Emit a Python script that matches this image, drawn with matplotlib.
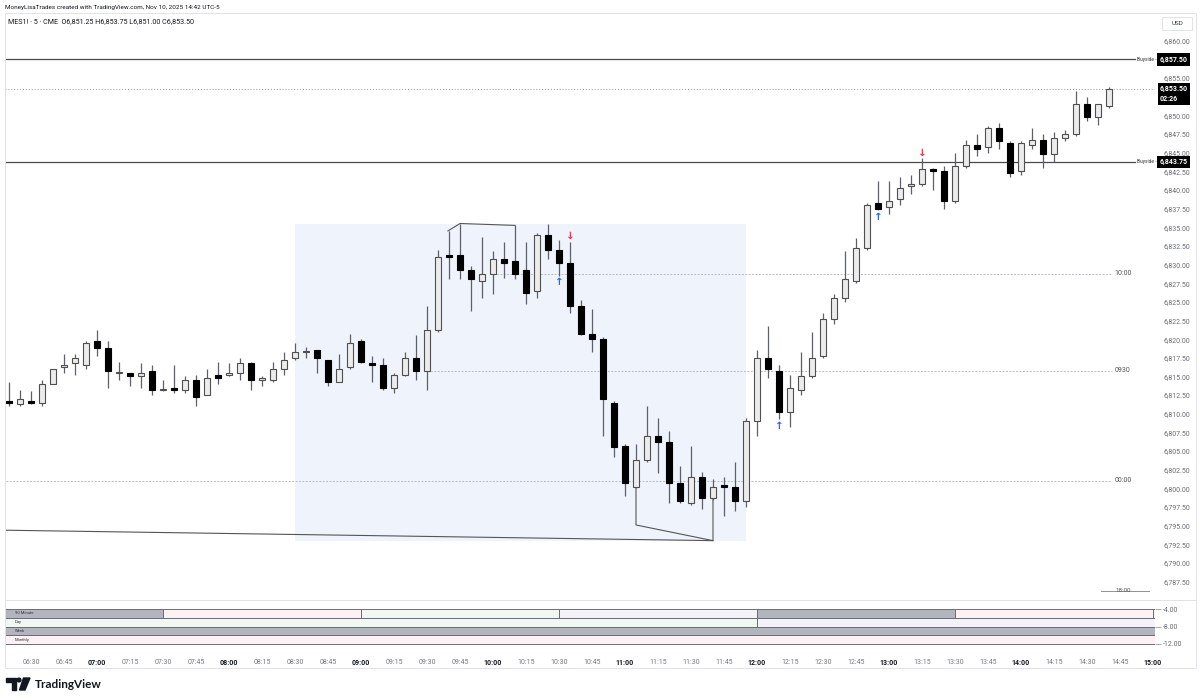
import matplotlib.pyplot as plt
from matplotlib.patches import Rectangle, Polygon, Circle
from matplotlib import transforms
import numpy as np

plt.rcParams['font.family'] = ['Roboto', 'DejaVu Sans']

# MES1! 5 minute bars, Nov 10 2025, first bar 06:20, last bar 14:40
opens = [6811.75, 6811.25, 6811.75, 6811.5, 6814.0, 6816.25, 6816.75, 6816.5, 6819.75, 6818.75,
         6815.5, 6815.5, 6815.0, 6815.75, 6813.25, 6813.5, 6813.25, 6814.5, 6812.5, 6815.25,
         6815.25, 6815.5, 6816.75, 6814.5, 6814.5, 6816.0, 6817.5, 6818.25, 6818.5, 6817.25,
         6814.25, 6816.25, 6819.75, 6816.75, 6816.5, 6813.5, 6815.25, 6817.5, 6815.75, 6821.25,
         6831.25, 6831.25, 6829.25, 6827.75, 6828.75, 6830.75, 6830.5, 6829.25, 6826.5, 6834.0,
         6832.0, 6830.25, 6824.5, 6820.75, 6820.0, 6811.5, 6805.75, 6800.25, 6803.75, 6807.0,
         6806.25, 6800.75, 6798.0, 6801.5, 6798.75, 6800.5, 6800.25, 6798.25, 6809.0, 6817.5,
         6815.75, 6810.25, 6813.25, 6815.0, 6817.75, 6822.75, 6825.5, 6827.75, 6832.25, 6838.25,
         6837.75, 6838.75, 6840.5, 6840.75, 6842.75, 6842.5, 6838.5, 6843.25, 6846.0, 6845.75,
         6848.25, 6846.25, 6842.5, 6846.0, 6846.75, 6844.75, 6847.0, 6847.5, 6851.5, 6849.75,
         6851.25]
highs = [6814.25, 6813.25, 6813.0, 6814.5, 6816.0, 6818.0, 6818.0, 6819.75, 6821.25, 6819.75,
         6817.0, 6815.5, 6816.75, 6816.5, 6814.5, 6816.5, 6815.0, 6815.25, 6816.0, 6817.0,
         6816.75, 6817.5, 6817.0, 6815.0, 6817.0, 6818.25, 6819.5, 6819.0, 6818.5, 6817.25,
         6818.0, 6820.75, 6820.0, 6817.75, 6817.5, 6815.5, 6818.25, 6820.5, 6824.5, 6832.0,
         6834.5, 6835.5, 6829.75, 6833.75, 6831.75, 6833.0, 6835.25, 6833.0, 6834.25, 6835.5,
         6833.25, 6833.0, 6825.25, 6824.0, 6820.25, 6811.75, 6806.0, 6806.0, 6811.0, 6809.5,
         6807.75, 6803.0, 6805.75, 6802.25, 6801.25, 6801.5, 6803.5, 6809.5, 6818.5, 6821.75,
         6816.5, 6815.25, 6818.25, 6821.0, 6823.5, 6826.0, 6831.75, 6833.5, 6838.25, 6841.25,
         6841.25, 6841.75, 6842.0, 6844.25, 6843.0, 6843.25, 6845.0, 6846.75, 6847.5, 6848.5,
         6849.0, 6846.5, 6846.5, 6848.25, 6847.5, 6847.75, 6848.0, 6853.25, 6852.5, 6851.5,
         6853.75]
lows = [6811.0, 6811.0, 6811.25, 6811.0, 6814.0, 6815.5, 6815.25, 6816.0, 6817.75, 6813.5,
        6814.5, 6813.75, 6813.5, 6812.5, 6813.0, 6812.75, 6812.75, 6811.0, 6812.5, 6814.0,
        6815.0, 6814.5, 6813.25, 6813.75, 6814.25, 6815.25, 6817.25, 6817.5, 6815.5, 6813.75,
        6814.25, 6816.0, 6816.75, 6814.25, 6813.25, 6812.75, 6815.0, 6814.5, 6813.25, 6821.0,
        6828.0, 6828.0, 6823.75, 6825.5, 6826.0, 6828.25, 6828.0, 6824.75, 6825.5, 6830.75,
        6828.5, 6823.5, 6820.5, 6818.25, 6807.0, 6804.25, 6799.0, 6800.0, 6803.5, 6802.0,
        6798.0, 6798.0, 6797.75, 6797.25, 6798.5, 6796.25, 6797.0, 6797.5, 6807.0, 6814.75,
        6809.25, 6808.25, 6812.5, 6814.75, 6817.5, 6822.0, 6825.0, 6827.5, 6832.0, 6837.25,
        6836.75, 6838.0, 6839.5, 6840.5, 6840.0, 6837.5, 6838.25, 6843.0, 6844.5, 6845.0,
        6845.5, 6841.75, 6842.0, 6845.5, 6843.0, 6843.75, 6846.5, 6847.25, 6849.25, 6848.75,
        6851.0]
closes = [6811.5, 6812.0, 6811.5, 6814.0, 6816.0, 6816.5, 6817.5, 6819.5, 6818.75, 6815.75,
          6815.5, 6815.0, 6815.5, 6813.25, 6813.25, 6813.25, 6814.5, 6812.25, 6814.75, 6814.75,
          6815.5, 6816.75, 6814.5, 6814.75, 6816.0, 6817.25, 6818.25, 6818.25, 6817.5, 6814.25,
          6816.0, 6819.5, 6817.0, 6816.5, 6813.5, 6815.25, 6817.5, 6815.75, 6821.25, 6831.0,
          6831.0, 6829.25, 6828.0, 6828.75, 6830.75, 6830.25, 6828.75, 6826.25, 6834.0, 6832.0,
          6830.25, 6824.5, 6820.75, 6820.0, 6812.0, 6805.5, 6800.75, 6803.75, 6807.0, 6806.25,
          6800.75, 6798.25, 6801.5, 6798.75, 6800.25, 6800.25, 6798.25, 6809.0, 6817.5, 6816.0,
          6810.25, 6813.5, 6815.0, 6817.5, 6822.75, 6825.5, 6828.0, 6832.25, 6838.0, 6837.5,
          6838.5, 6840.25, 6840.75, 6842.75, 6842.5, 6838.5, 6843.25, 6846.0, 6845.5, 6848.25,
          6846.5, 6842.25, 6846.25, 6846.75, 6844.75, 6847.0, 6847.5, 6851.5, 6849.75, 6851.5,
          6853.5]

# bar index 2 = 06:30, one tick every 15 minutes up to 15:00
time_labels = ["06:30", "06:45", "07:00", "07:15", "07:30", "07:45", "08:00", "08:15", "08:30",
               "08:45", "09:00", "09:15", "09:30", "09:45", "10:00", "10:15", "10:30", "10:45",
               "11:00", "11:15", "11:30", "11:45", "12:00", "12:15", "12:30", "12:45", "13:00",
               "13:15", "13:30", "13:45", "14:00", "14:15", "14:30", "14:45", "15:00"]

# levels
buyside_levels = [6857.50, 6843.75]
open_levels = ["10:00", "0930", "00:00"]
open_prices = [6828.75, 6815.75, 6801.0]
open_start = [44, 38, -1]
globex_level = 6786.3

# 08:30 - 11:55 range box
box_x = [26, 67]
box_y = [6793.0, 6835.5]

# drawn lines (bar index, price)
trend_x = [-0.4, 64]
trend_y = [6794.4, 6793.0]
sweep_x = [57, 57, 64, 64]
sweep_y = [6800.0, 6795.1, 6793.0, 6798.5]
top_x = [39.9, 41, 46]
top_y = [6834.5, 6835.5, 6835.25]

# signal arrows
up_x = [50, 70, 79]
up_y = [6827.7, 6808.4, 6836.4]
down_x = [51, 83]
down_y = [6833.8, 6845.0]

# cycle panel
cycle_rows = ["90 Minute", "Day", "Week", "Monthly"]
GRAY, PINK, GREEN, LAV = "#b2b5be", "#fdf1f3", "#f1f8f1", "#f4f2f9"
cycle_bounds = [[-1, 14, 32, 50, 68, 86, 104, 106], [-1, 68, 106], [-1, 106], [-1, 106]]
cycle_colors = [[GRAY, PINK, GREEN, LAV, GRAY, PINK, GREEN], [GREEN, LAV], [GRAY], [PINK]]

W, H = 1200, 700
fig = plt.figure(figsize=(12, 7), dpi=100)


def px_rect(x0, y0, x1, y1):
    return [x0 / W, 1 - y1 / H, (x1 - x0) / W, (y1 - y0) / H]


XL = (-0.36, 104.18)
ax = fig.add_axes(px_rect(5, 13, 1155, 599))
ax.set_xlim(*XL)
ax.set_ylim(6785.18, 6863.71)
for s in ax.spines.values():
    s.set_visible(False)

o, h, l, c = map(np.array, (opens, highs, lows, closes))
idx = np.arange(len(o))
up = c >= o

# range box and lines
ax.add_patch(Rectangle((box_x[0], box_y[0]), box_x[1] - box_x[0], box_y[1] - box_y[0],
                       fc="#eff4fc", ec="none", zorder=0))
ax.axhline(closes[-1], color="#9598a1", lw=0.7, ls=(0, (1, 2)), zorder=1)
for lv in buyside_levels:
    ax.axhline(lv, xmin=0, xmax=0.9826, color="#4a4a4a", lw=0.9, zorder=1)
blend = transforms.blended_transform_factory(ax.transAxes, ax.transData)
for name, p, st in zip(open_levels, open_prices, open_start):
    ax.plot([st, 100.3], [p, p], color="#b8bbc3", lw=0.7, ls=(0, (2, 1.5)), zorder=1)
    ax.text(100.5, p, name, fontsize=5, color="#555", va="center", ha="left")
ax.plot([99.3, 103.6], [globex_level, globex_level], color="#5fa8a0", lw=0.7, zorder=1)
ax.text(100.6, globex_level, "18:00", fontsize=4.5, color="#555", va="center", ha="left")

ax.plot(trend_x, trend_y, color="#555", lw=0.8, zorder=1)
ax.plot(sweep_x, sweep_y, color="#555", lw=0.8, zorder=1)
ax.plot(top_x, top_y, color="#555", lw=0.8, zorder=1)

# candles
ax.vlines(idx, l, h, color="#5d606b", lw=0.9, zorder=2)
body_lo = np.minimum(o, c)
body_h = np.maximum(np.abs(c - o), 0.1)
ax.bar(idx[up], body_h[up], bottom=body_lo[up], width=0.62, color="#ececec",
       edgecolor="#4f4f4f", lw=0.8, zorder=3)
ax.bar(idx[~up], body_h[~up], bottom=body_lo[~up], width=0.62, color="#000",
       edgecolor="#000", lw=0.8, zorder=3)

for x, y in zip(up_x, up_y):
    ax.text(x, y, "↑", color="#2962ff", fontsize=7.5, fontweight="bold", ha="center",
            va="center", zorder=4)
for x, y in zip(down_x, down_y):
    ax.text(x, y, "↓", color="#f23645", fontsize=7.5, fontweight="bold", ha="center",
            va="center", zorder=4)

# price scale; tick labels hidden where a price tag sits on top of them
ticks = np.arange(6787.5, 6860.01, 2.5)
covered = [(lv - 0.75, lv + 0.75) for lv in buyside_levels] + [(closes[-1] - 2.0, closes[-1] + 0.75)]
ticks = [t for t in ticks if not any(a < t < b for a, b in covered)]
ax.yaxis.tick_right()
ax.set_yticks(ticks)
ax.set_yticklabels([f"{t:,.2f}" for t in ticks])
ax.tick_params(axis="y", length=0, pad=6, labelsize=5, labelcolor="#6a6d78")
ax.set_xticks([])

for lv in buyside_levels:
    ax.text(0.9843, lv, "Buyside -", transform=blend, fontsize=3.5, color="#333",
            va="center", ha="left")
    ax.text(1.004, lv, f"{lv:,.2f}", transform=blend, fontsize=5, color="white",
            fontweight="bold", va="center", ha="left",
            bbox=dict(boxstyle="square,pad=0.35", fc="black", ec="none"))
ax.text(1.004, closes[-1] + 0.55, f"{closes[-1]:,.2f}\n02:26", transform=blend, fontsize=5,
        color="white", fontweight="bold", va="top", ha="left", linespacing=1.3,
        bbox=dict(boxstyle="square,pad=0.3", fc="black", ec="none"))

# cycle panel
ax2 = fig.add_axes(px_rect(5, 600, 1155, 652))
ax2.set_xlim(*XL)
ax2.set_ylim(-13.83, -1.94)
for s in ax2.spines.values():
    s.set_visible(False)
for r, (name, bounds, cols) in enumerate(zip(cycle_rows, cycle_bounds, cycle_colors)):
    top = -4 - 2 * r
    for x0, x1, col in zip(bounds[:-1], bounds[1:], cols):
        x0 = max(x0, XL[0])
        x1 = min(x1, XL[1])
        ax2.add_patch(Rectangle((x0, top - 2), x1 - x0, 2, fc=col, ec="#6a6d78", lw=0.7))
    ax2.text(0.55, top - 1, name, fontsize=3, color="#333", va="center", ha="left")
ax2.yaxis.tick_right()
ax2.set_yticks([-4, -8, -12])
ax2.set_yticklabels(["-4.00", "-8.00", "-12.00"])
ax2.tick_params(axis="y", length=4, width=0.6, color="#9598a1", pad=2, labelsize=5,
                labelcolor="#6a6d78")
tick_pos = 2 + 3 * np.arange(len(time_labels))
ax2.set_xticks(tick_pos)
ax2.set_xticklabels(time_labels)
ax2.tick_params(axis="x", length=0, pad=5, labelsize=5, labelcolor="#787b86")
for lab in ax2.get_xticklabels():
    if lab.get_text().endswith(":00"):
        lab.set_fontweight("bold")
        lab.set_color("#131722")

# frame, header and logo
fig.patches.append(Rectangle((5 / W, 1 - 668 / H), 1191 / W, 655 / H, transform=fig.transFigure,
                             fill=False, ec="#e0e3eb", lw=0.7))
fig.lines.append(plt.Line2D([5 / W, 1196 / W], [1 - 600 / H] * 2, transform=fig.transFigure,
                            color="#e0e3eb", lw=0.7))
fig.patches.append(Rectangle((1162 / W, 1 - 30 / H), 30 / W, 13 / H, transform=fig.transFigure,
                             fill=False, ec="#e0e3eb", lw=0.7))
fig.text(1177 / W, 1 - 23.5 / H, "USD", fontsize=4.5, ha="center", va="center", color="#333")
fig.text(5 / W, 1 - 7 / H, "MoneyLisaTrades created with TradingView.com, Nov 10, 2025 14:42 UTC-5",
         fontsize=4.6, va="center", color="#131722")
fig.text(8 / W, 1 - 22 / H,
         f"MES1! · 5 · CME  O{opens[-1]:,.2f} H{highs[-1]:,.2f} L{lows[-1]:,.2f} C{closes[-1]:,.2f}",
         fontsize=5.1, va="center", color="#131722")

lg = fig.add_axes(px_rect(4, 676, 32, 692))
lg.set_xlim(4, 32)
lg.set_ylim(692, 676)
lg.axis("off")
lg.add_patch(Polygon([(6, 678), (16, 678), (16, 690), (12, 690), (12, 682), (6, 682)], color="#131722"))
lg.add_patch(Circle((19, 680), 1.9, color="#131722"))
lg.add_patch(Polygon([(23.5, 678), (30, 678), (25, 690), (19.5, 690)], color="#131722"))
fig.text(35 / W, 1 - 684 / H, "TradingView", fontsize=8.5, fontweight="bold",
         family=["Lato", "DejaVu Sans"], va="center", color="#131722")

fig.savefig("out.png", dpi=100, facecolor="white")
